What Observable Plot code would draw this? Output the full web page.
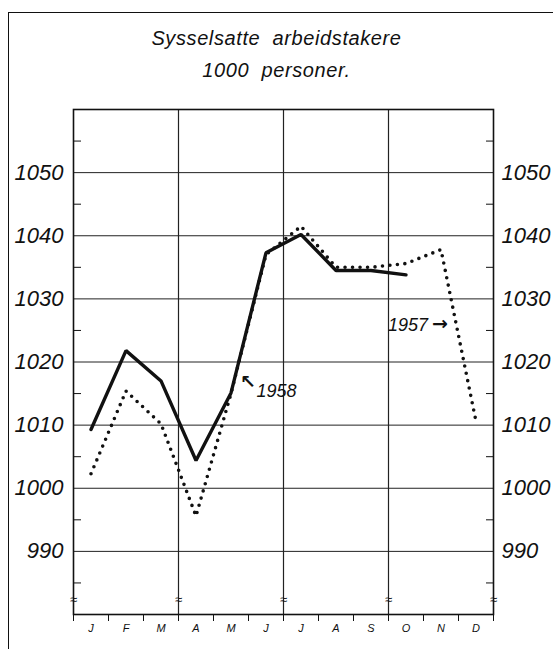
<!DOCTYPE html>
<html>
<head>
<meta charset="utf-8">
<script src="https://cdn.jsdelivr.net/npm/d3@7"></script>
<script src="https://cdn.jsdelivr.net/npm/@observablehq/plot@0.6"></script>
<style>
  html, body { margin: 0; padding: 0; background: #fff; }
  #wrap { position: relative; width: 553px; height: 649px; overflow: hidden; font-family: "Liberation Sans", "DejaVu Sans", sans-serif; }
  #border { position: absolute; left: 8px; top: 12px; right: -4px; bottom: -4px; border-left: 1.5px solid #111; border-top: 1.5px solid #111; pointer-events: none; }
  .title { position: absolute; left: 0; width: 553px; text-align: center; font-style: italic; font-size: 20px; color: #111; letter-spacing: 0.6px; }
  #chart { position: absolute; left: 0; top: 0; }
  #chart svg text { font-style: italic; }
</style>
</head>
<body>
<div id="wrap">
  <div id="chart"></div>
  <div class="title" style="top:27px; left:0px;">Sysselsatte&nbsp; arbeidstakere</div>
  <div class="title" style="top:59px; left:0px;">1000&nbsp; personer.</div>
  <div id="border"></div>
</div>
<script>
// ---- data ----
const months = ["J", "F", "M", "A", "M", "J", "J", "A", "S", "O", "N", "D"];
const emp1958 = [1009.3, 1021.8, 1017.0, 1004.4, 1015.1, 1037.3, 1040.2, 1034.5, 1034.5, 1033.8];
const emp1957 = [1002.3, 1015.4, 1010.2, 995.6, 1015.0, 1037.0, 1041.5, 1035.0, 1035.0, 1035.6, 1037.8, 1010.6];
const yTicks = [990, 1000, 1010, 1020, 1030, 1040, 1050];
const yMinorTicks = [985, 995, 1005, 1015, 1025, 1035, 1045, 1055];
const quarterBounds = [3, 6, 9];
const breakBounds = [0, 3, 6, 9, 12];
const breakLevel = 982.3;
const arrows = [{label: "↖", month: 4.98, value: 1016.9}, {label: "→", month: 10.47, value: 1026.0}];
const yearLabels = [{label: "1958", month: 5.23, value: 1015.3, anchor: "start"}, {label: "1957", month: 10.13, value: 1025.8, anchor: "end"}];

// ---- tables ----
const d1958 = emp1958.map((v, i) => ({m: i + 0.5, v}));
const d1957 = emp1957.map((v, i) => ({m: i + 0.5, v}));
const monthBounds = d3.range(0, 13);
const monthCenters = months.map((_, i) => i + 0.5);

const ital = {fontStyle: "italic", fontFamily: "Liberation Sans, DejaVu Sans, sans-serif"};

const chart = Plot.plot({
  width: 553,
  height: 649,
  marginTop: 109,
  marginBottom: 35,
  marginLeft: 73,
  marginRight: 60,
  style: {background: "transparent", color: "#111", fontStyle: "italic"},
  x: {domain: [0, 12], axis: null},
  y: {domain: [980, 1060], axis: null},
  marks: [
    Plot.gridY(yTicks, {stroke: "#222", strokeOpacity: 1, strokeWidth: 1}),
    Plot.gridX(quarterBounds, {stroke: "#222", strokeOpacity: 1, strokeWidth: 1.2}),
    Plot.frame({stroke: "#111", strokeWidth: 1.6}),
    Plot.axisY(yTicks, {anchor: "left", tickSize: 0, tickPadding: 10, fontSize: 22, tickFormat: (d) => String(d), ...ital}),
    Plot.axisY(yTicks, {anchor: "right", tickSize: 0, tickPadding: 8, fontSize: 22, tickFormat: (d) => String(d), ...ital}),
    Plot.axisY(yMinorTicks, {anchor: "left", tickSize: -8, tickPadding: 0, tickFormat: () => ""}),
    Plot.axisY(yMinorTicks, {anchor: "right", tickSize: -8, tickPadding: 0, tickFormat: () => ""}),
    Plot.axisX(monthBounds, {anchor: "bottom", tickSize: 7, tickFormat: () => ""}),
    Plot.axisX(monthCenters, {anchor: "bottom", tickSize: 0, tickPadding: 10, fontSize: 11, tickFormat: (d) => months[Math.floor(d)], ...ital}),
    Plot.text(breakBounds, {x: (d) => d, y: () => breakLevel, text: () => "≈", fontSize: 13, fill: "#111"}),
    Plot.line(d1957, {x: "m", y: "v", stroke: "#111", strokeWidth: 3.6, strokeDasharray: "0 7.5", strokeLinecap: "round"}),
    Plot.line(d1958, {x: "m", y: "v", stroke: "#111", strokeWidth: 3.4, strokeLinejoin: "miter"}),
    Plot.text(arrows, {x: "month", y: "value", text: "label", textAnchor: "middle", fontSize: 19, fontWeight: "bold", fill: "#111", fontFamily: "DejaVu Sans, sans-serif"}),
    Plot.text(yearLabels, {x: "month", y: "value", text: "label", textAnchor: "start", fontSize: 18, fill: "#111", ...ital, filter: (d) => d.anchor === "start"}),
    Plot.text(yearLabels, {x: "month", y: "value", text: "label", textAnchor: "end", fontSize: 18, fill: "#111", ...ital, filter: (d) => d.anchor === "end"})
  ]
});
document.getElementById("chart").appendChild(chart);
</script>
</body>
</html>
